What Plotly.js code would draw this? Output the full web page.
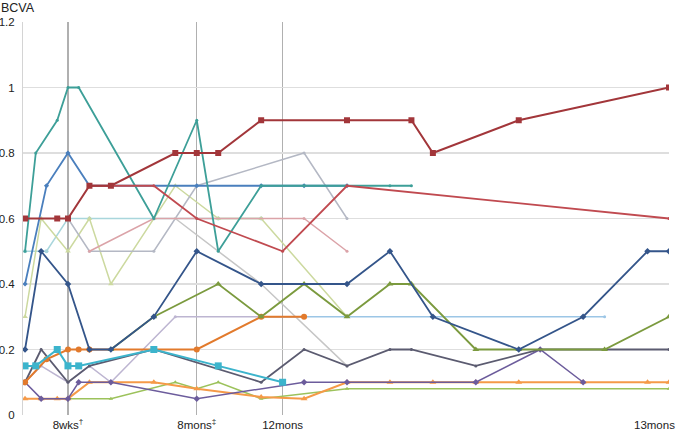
<!DOCTYPE html>
<html><head><meta charset="utf-8">
<script src="https://cdn.plot.ly/plotly-3.0.1.min.js"></script>
<style>html,body{margin:0;padding:0;background:#fff}#chart{width:677px;height:432px}</style>
</head><body><div id="chart"></div>
<script>
// category positions of visits and their labels
const tickPos = [4, 16, 24, 60];
const tickLabels = ['8wks<sup>†</sup>', '8mons<sup>‡</sup>', '12mons', ''];
const lastLabel = '13mons';
const yTicks = [0, 0.2, 0.4, 0.6, 0.8, 1, 1.2];

// patient series (x = visit index, y = BCVA)
const paleX = [0, 2, 4, 6, 12, 18, 22];
const paleY = [0.5, 0.5, 0.6, 0.6, 0.6, 0.6, 0.6];
const tanX = [0, 1.5, 4, 6, 8, 12, 14, 18, 22, 30];
const tanY = [0.3, 0.6, 0.5, 0.6, 0.4, 0.6, 0.7, 0.6, 0.6, 0.3];
const grayX = [4, 6, 12, 16, 26, 30];
const grayY = [0.6, 0.5, 0.5, 0.7, 0.8, 0.6];
const gray2X = [14, 22, 30];
const gray2Y = [0.6, 0.4, 0.15];
const pinkX = [6, 12, 26, 30];
const pinkY = [0.5, 0.6, 0.6, 0.5];
const lavX = [0, 1.5, 4, 6, 8, 14, 26];
const lavY = [0.1, 0.15, 0.1, 0.15, 0.1, 0.3, 0.3];
const skyX = [22, 30, 54];
const skyY = [0.3, 0.3, 0.3];
const greenX = [4, 8, 14, 16, 18, 22, 30, 60];
const greenY = [0.05, 0.05, 0.1, 0.08, 0.1, 0.05, 0.08, 0.08];
const ltOrangeX = [0, 1.5, 3, 4, 6, 12, 16, 22, 26, 30, 34, 38, 42, 46, 52, 58, 60];
const ltOrangeY = [0.05, 0.05, 0.05, 0.05, 0.1, 0.1, 0.08, 0.055, 0.05, 0.1, 0.1, 0.1, 0.1, 0.1, 0.1, 0.1, 0.1];
const purpleX = [0, 1.5, 4, 5, 8, 16, 26, 30, 42, 48, 52];
const purpleY = [0.1, 0.05, 0.05, 0.1, 0.1, 0.05, 0.1, 0.1, 0.1, 0.2, 0.1];
const slateX = [0, 1.5, 4, 6, 12, 22, 26, 30, 34, 36, 42, 48, 60];
const slateY = [0.1, 0.2, 0.1, 0.15, 0.2, 0.1, 0.2, 0.15, 0.2, 0.2, 0.15, 0.2, 0.2];
const orangeX = [0, 2, 4, 5, 6, 16, 22, 26];
const orangeY = [0.1, 0.17, 0.2, 0.2, 0.2, 0.2, 0.3, 0.3];
const oliveX = [8, 12, 18, 22, 26, 30, 34, 36, 42, 46, 54, 60];
const oliveY = [0.2, 0.3, 0.4, 0.3, 0.4, 0.3, 0.4, 0.4, 0.2, 0.2, 0.2, 0.3];
const cyanX = [0, 1, 3, 4, 5, 12, 18, 24];
const cyanY = [0.15, 0.15, 0.2, 0.15, 0.15, 0.2, 0.15, 0.1];
const navyX = [0, 1.5, 4, 6, 8, 12, 16, 22, 30, 34, 38, 46, 52, 58, 60];
const navyY = [0.2, 0.5, 0.4, 0.2, 0.2, 0.3, 0.5, 0.4, 0.4, 0.5, 0.3, 0.2, 0.3, 0.5, 0.5];
const blueX = [0, 2, 4, 6, 16, 22, 26, 30];
const blueY = [0.4, 0.7, 0.8, 0.7, 0.7, 0.7, 0.7, 0.7];
const tealX = [0, 1, 3, 4, 5, 12, 16, 18, 22, 26, 34, 36];
const tealY = [0.5, 0.8, 0.9, 1.0, 1.0, 0.6, 0.9, 0.5, 0.7, 0.7, 0.7, 0.7];
const redX = [6, 12, 16, 24, 30, 60];
const redY = [0.7, 0.7, 0.6, 0.5, 0.7, 0.6];
const maroonX = [0, 3, 4, 6, 8, 14, 16, 18, 22, 30, 36, 38, 46, 60];
const maroonY = [0.6, 0.6, 0.6, 0.7, 0.7, 0.8, 0.8, 0.8, 0.9, 0.9, 0.9, 0.8, 0.9, 1.0];

const series = [
  [paleX, paleY, '#a9d6dc', 'circle', 4, 1.5],
  [tanX, tanY, '#ccd99f', 'triangle-up', 5, 1.5],
  [grayX, grayY, '#b4b8c4', 'circle', 3, 1.5],
  [gray2X, gray2Y, '#c6c6c6', 'circle', 3, 1.5],
  [pinkX, pinkY, '#dba3a8', 'circle', 3, 1.5],
  [lavX, lavY, '#bdb5d1', 'circle', 3, 1.5],
  [skyX, skyY, '#9cc6e6', 'circle', 3, 1.5],
  [greenX, greenY, '#9cc25b', 'triangle-up', 4, 1.5],
  [ltOrangeX, ltOrangeY, '#f59a48', 'triangle-up', 6, 2],
  [purpleX, purpleY, '#6c5c9c', 'diamond', 5, 1.5],
  [slateX, slateY, '#5b5b70', 'circle', 3, 1.8],
  [orangeX, orangeY, '#e27a2c', 'circle', 6, 2],
  [oliveX, oliveY, '#7b9a3e', 'triangle-up', 6, 1.8],
  [cyanX, cyanY, '#3cb4cc', 'square', 7, 2],
  [navyX, navyY, '#34558a', 'diamond', 5, 1.8],
  [blueX, blueY, '#4a7fbd', 'diamond', 4, 1.8],
  [tealX, tealY, '#3d9f98', 'circle', 3, 1.8],
  [redX, redY, '#c04a50', 'circle', 3, 1.8],
  [maroonX, maroonY, '#a2363a', 'square', 6, 2]
];

const traces = series.map(s => ({
  type: 'scatter', mode: 'lines+markers',
  x: s[0], y: s[1],
  line: {color: s[2], width: s[5]},
  marker: {color: s[2], symbol: s[3], size: s[4]},
  showlegend: false, hoverinfo: 'skip'
}));

const layout = {
  width: 677, height: 432,
  margin: {l: 23, r: 8, t: 22, b: 17},
  paper_bgcolor: '#fff', plot_bgcolor: '#fff',
  font: {family: 'Liberation Sans, Arial, sans-serif', size: 11.5, color: '#222'},
  xaxis: {
    range: [-0.19, 60], tickmode: 'array', tickvals: tickPos, ticktext: tickLabels,
    showgrid: true, gridcolor: '#b0b0b0', gridwidth: 1.2, zeroline: false,
    showline: false, ticks: '', ticklabelstandoff: 1, fixedrange: true
  },
  yaxis: {
    range: [0, 1.2], tickmode: 'array', tickvals: yTicks,
    showgrid: true, gridcolor: '#dedede', gridwidth: 1.2, zeroline: false,
    showline: true, linecolor: '#d4d4d4', linewidth: 1, ticks: '', ticklabelstandoff: 5,
    fixedrange: true
  },
  annotations: [
    {text: 'BCVA', xref: 'paper', yref: 'paper', x: -23/646, y: 1 + 22/393,
     xanchor: 'left', yanchor: 'top', showarrow: false, borderpad: 0,
     font: {size: 12.5, color: '#222'}},
    {text: lastLabel, xref: 'x', yref: 'paper', x: 60, y: -2/393,
     xanchor: 'right', yanchor: 'top', showarrow: false, xshift: 8,
     font: {size: 11.5, color: '#222'}}
  ]
};

Plotly.newPlot('chart', traces, layout, {staticPlot: true, displayModeBar: false});
</script></body></html>
